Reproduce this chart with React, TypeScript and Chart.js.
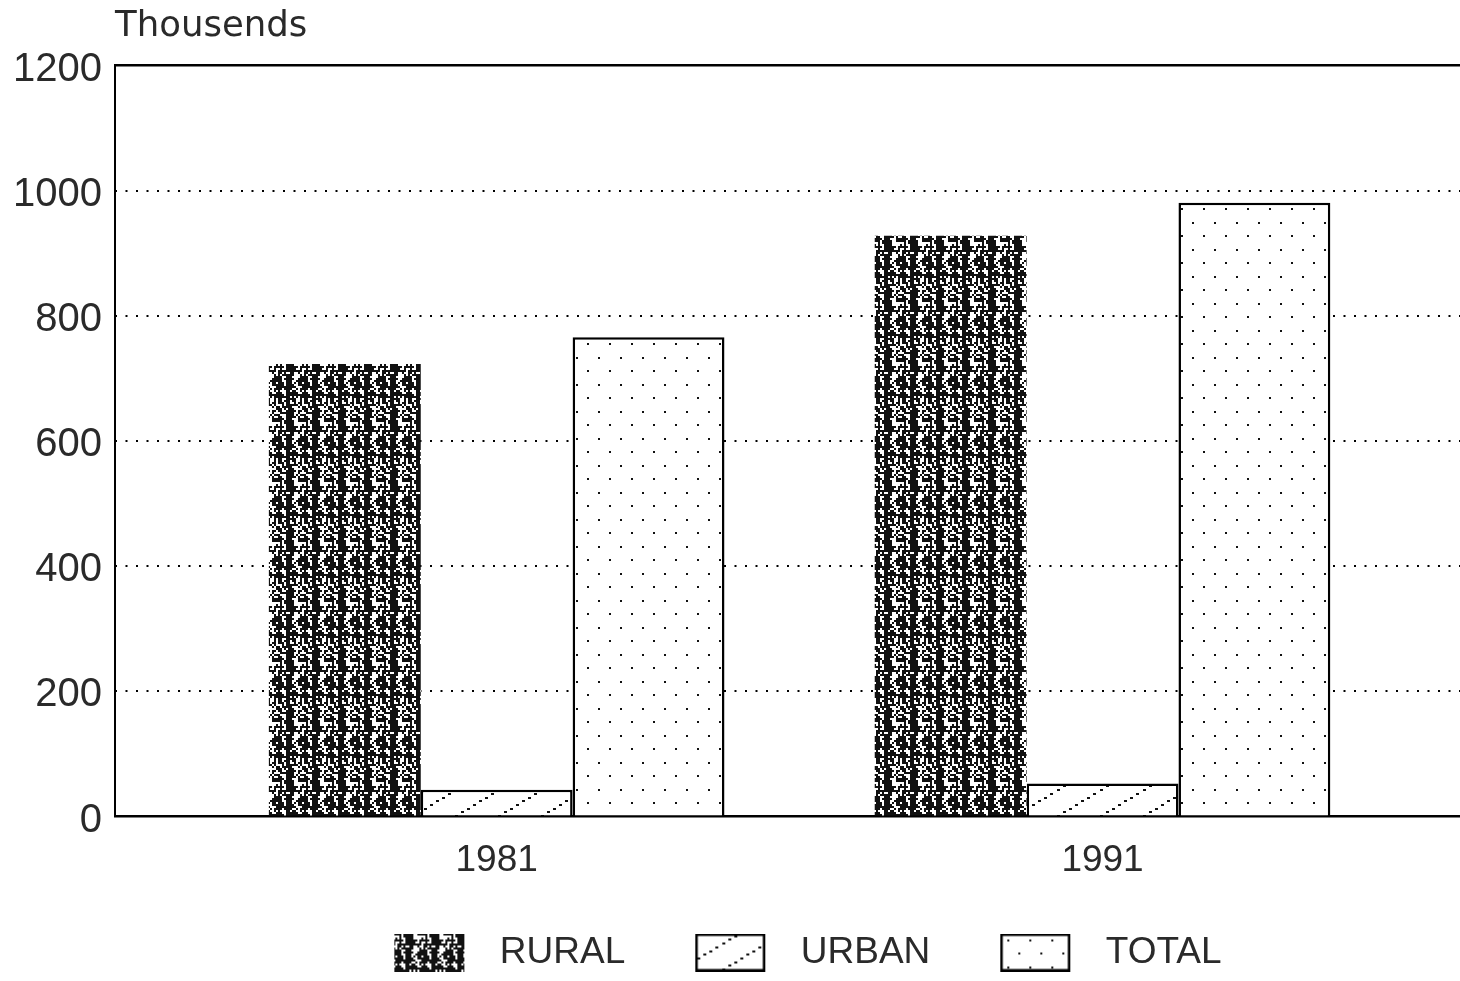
import React, { useEffect, useRef } from 'react';
import { Chart, registerables } from 'chart.js';

Chart.register(...registerables);

// ---- data ----
const categories = [1981, 1991];
const seriesLabels = ['RURAL', 'URBAN', 'TOTAL'];
const rural = [723, 928];
const urban = [43, 53];
const total = [766, 981];
const yTicks = [0, 200, 400, 600, 800, 1000, 1200];
const yAxisTitle = 'Thousends';

const SANS = "'Liberation Sans', Arial, sans-serif";

function hash(x: number, y: number): number {
  const s = Math.sin(x * 127.1 + y * 311.7) * 43758.5453;
  return s - Math.floor(s);
}

function ruralTile(): HTMLCanvasElement {
  const cw = 13;
  const ch = 30;
  const c = document.createElement('canvas');
  c.width = cw * 2;
  c.height = ch * 2;
  const g = c.getContext('2d')!;
  g.fillStyle = '#fff';
  g.fillRect(0, 0, c.width, c.height);
  g.fillStyle = '#111';
  for (let y = 0; y < ch; y++) {
    for (let x = 0; x < cw; x++) {
      let p = 0.5;
      if (x < 4) p = 0.85;
      else if (x < 6) p = 0.45;
      else if (x < 9) p = 0.6;
      else if (x < 11) p = 0.78;
      else p = 0.4;
      if (hash(x, y) < p) g.fillRect(x * 2, y * 2, 2, 2);
    }
  }
  return c;
}

function urbanTile(): HTMLCanvasElement {
  const w = 43;
  const h = 26;
  const c = document.createElement('canvas');
  c.width = w;
  c.height = h;
  const g = c.getContext('2d')!;
  g.fillStyle = '#fff';
  g.fillRect(0, 0, w, h);
  g.fillStyle = '#111';
  const n = 7;
  for (let i = 0; i < n; i++) {
    const t = i / n;
    const x = t * w;
    const y = h - t * h;
    g.fillRect(Math.round(x), Math.round(y) - 2, 3, 2);
  }
  return c;
}

function totalTile(): HTMLCanvasElement {
  const w = 22;
  const h = 27;
  const c = document.createElement('canvas');
  c.width = w;
  c.height = h;
  const g = c.getContext('2d')!;
  g.fillStyle = '#fff';
  g.fillRect(0, 0, w, h);
  g.fillStyle = '#111';
  g.fillRect(4, 6, 2, 2);
  g.fillRect(15, 19, 2, 2);
  return c;
}

// legend swatch image: transparent lead-in, patterned box, transparent gap
function makeSwatch(tile: HTMLCanvasElement, border: number): HTMLCanvasElement {
  const lead = 41;
  const bw = 70;
  const tail = 17;
  const bh = 38;
  const c = document.createElement('canvas');
  c.width = lead + bw + tail;
  c.height = bh;
  const g = c.getContext('2d')!;
  const pat = g.createPattern(tile, 'repeat');
  g.fillStyle = pat || '#888';
  g.fillRect(lead, 0, bw, bh);
  if (border > 0) {
    g.strokeStyle = '#000';
    g.lineWidth = border;
    g.strokeRect(lead + border / 2, border / 2, bw - border, bh - border);
  }
  return c;
}

export default function App() {
  const ref = useRef<HTMLCanvasElement | null>(null);

  useEffect(() => {
    const canvas = ref.current;
    if (!canvas) return;
    const ctx = canvas.getContext('2d');
    if (!ctx) return;

    const tiles = [ruralTile(), urbanTile(), totalTile()];
    const fills = tiles.map((t) => ctx.createPattern(t, 'repeat') || '#888');
    const values = [rural, urban, total];
    const borders = [0, 2.5, 2.5];
    const swatches = tiles.map((t, i) => makeSwatch(t, borders[i] > 0 ? 2.5 : 0));

    const defaultLabels = (Chart as any).defaults.plugins.legend.labels.generateLabels;

    const chart = new Chart(ctx, {
      type: 'bar',
      data: {
        datasets: seriesLabels.map((label, si) => ({
          label,
          data: categories.map((c, i) => ({ x: c, y: values[si][i] })),
          backgroundColor: fills[si] as any,
          borderColor: '#000',
          borderWidth: borders[si],
          categoryPercentage: 0.752,
          barPercentage: 1.0,
        })),
      },
      options: {
        responsive: false,
        animation: false,
        devicePixelRatio: 1,
        events: [],
        layout: { padding: { left: 0, right: 0, top: 0, bottom: 0 } },
        scales: {
          x: {
            type: 'linear',
            min: 1974.7,
            max: 1996.9,
            offset: false,
            position: 'bottom',
            afterBuildTicks: (s: any) => {
              s.ticks = categories.map((v) => ({ value: v }));
            },
            grid: { display: false, drawTicks: false, offset: false },
            border: { display: true, color: '#000', width: 2.5 },
            ticks: {
              callback: (v: any) => String(v),
              font: { family: SANS, size: 37 },
              color: '#2a2a2a',
              padding: 22,
              maxRotation: 0,
              autoSkip: false,
            },
          },
          x2: {
            type: 'linear',
            position: 'top',
            display: true,
            grid: { display: false, drawTicks: false },
            ticks: { display: false },
            border: { display: true, color: '#000', width: 2.5 },
          },
          y: {
            type: 'linear',
            position: 'left',
            weight: 1,
            min: 0,
            max: 1200,
            afterBuildTicks: (s: any) => {
              s.ticks = yTicks.map((v) => ({ value: v }));
            },
            grid: {
              drawTicks: false,
              lineWidth: 2,
              color: (c: any) =>
                c.tick && (c.tick.value === 0 || c.tick.value === 1200) ? 'rgba(0,0,0,0)' : '#000',
            },
            border: { display: false, dash: [2, 8.5] },
            ticks: {
              callback: (v: any) => String(v),
              font: { family: SANS, size: 40 },
              color: '#2a2a2a',
              padding: 13,
              labelOffset: 4,
            },
          },
          y2: {
            type: 'linear',
            position: 'left',
            weight: 0,
            display: true,
            min: 0,
            max: 1200,
            grid: { display: false, drawTicks: false },
            ticks: { display: false },
            border: { display: true, color: '#000', width: 2 },
          },
        },
        plugins: {
          tooltip: { enabled: false },
          title: {
            display: true,
            text: yAxisTitle,
            align: 'start',
            fullSize: false,
            color: '#2a2a2a',
            font: { family: "'DejaVu Sans', sans-serif", size: 35.5, weight: 'normal' },
            padding: { top: 5, bottom: 18 },
          },
          legend: {
            display: true,
            position: 'bottom',
            fullSize: false,
            labels: {
              usePointStyle: true,
              pointStyleWidth: 128,
              boxHeight: 37,
              padding: 29,
              color: '#2a2a2a',
              font: { family: SANS, size: 37 },
              generateLabels: (ch: any) =>
                defaultLabels(ch).map((l: any, i: number) => ({ ...l, pointStyle: swatches[i] })),
            },
          },
        },
      } as any,
    });

    return () => {
      chart.destroy();
    };
  }, []);

  return (
    <div style={{ position: 'absolute', left: 0, top: 0, width: 1460, height: 981, background: '#fff' }}>
      <canvas ref={ref} width={1460} height={981} style={{ display: 'block' }} />
    </div>
  );
}
